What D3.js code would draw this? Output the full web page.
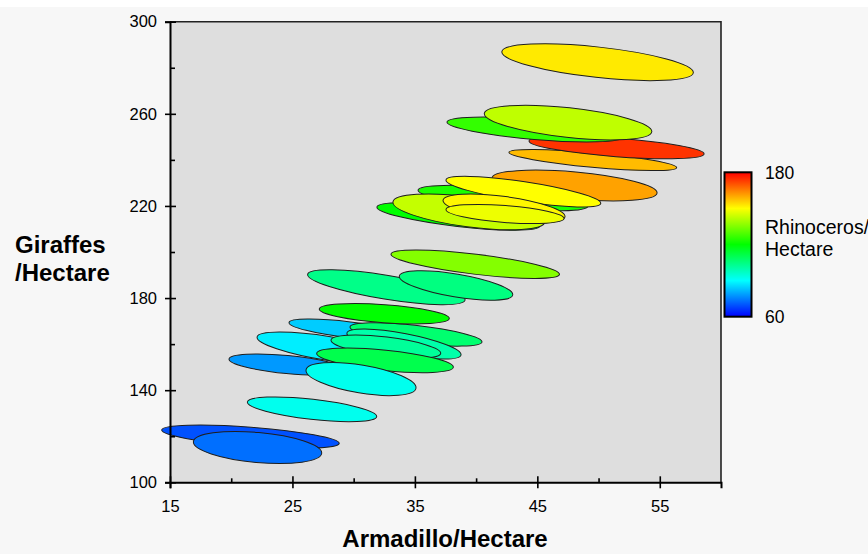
<!DOCTYPE html>
<html><head><meta charset="utf-8">
<script src="https://cdn.jsdelivr.net/npm/d3@7"></script>
<style>body{margin:0;background:#fff;} svg{display:block;font-family:"Liberation Sans",Arial,sans-serif;}</style>
</head><body><svg id="c" width="868" height="554"></svg>
<script>
// centre of each ellipse (Armadillo/Hectare, Giraffes/Hectare)
const armadillo = [21.57,22.15,26.6,29.66,27.95,24.56,35.09,34.11,32.63,32.56,30.6,32.5,32.67,38.36,39.93,38.56,42.2,48.04,39.42,43.86,42.28,42.36,49.53,51.47,44.81,47.51,49.92];
const giraffes  = [119.8,115.1,131.7,166.2,158.1,151.15,164.2,160.05,158.9,152.97,144.85,173.2,184.7,185.45,194.7,215.4,223.4,228.9,217.4,226.2,218.9,216.5,239.95,245.4,253.2,256.2,282.4];
// colour value
const rhinos    = [69.5,73,92,84,88,78,107,100,102,111,92,120,104,105,135.5,120,123,161,143,150,151,148,158,174,126,142.5,152.5];
// half-extent of major axis in armadillo units, drop of that axis in giraffe units, half-width in giraffe units
const spreadX   = [7.25,5.24,5.28,4.94,5.84,4.74,5.39,4.66,4.48,5.58,4.49,5.31,6.43,4.63,6.88,6.66,6.94,6.74,6.21,6.32,4.98,4.82,6.85,7.15,7.19,6.84,7.82];
const tiltY     = [2.91,2.52,3.17,3.15,4.99,2.39,3.26,4.78,2.91,3.04,4.0,2.04,5.56,4.13,4.43,4.12,3.47,3.26,4.34,5.08,3.6,1.95,3.34,2.82,3.26,4.0,4.56];
const spreadY   = [4.13,6.51,4.34,3.47,5.21,3.91,3.91,4.56,4.17,4.43,6.08,3.91,5.21,4.99,4.34,4.34,4.34,5.86,6.5,4.34,5.2,3.69,3.17,4.0,4.34,6.43,6.6];
const xMajor = [15,25,35,45,55];
const xMinor = [20,30,40,50];
const yMajor = [100,140,180,220,260,300];
const yMinor = [120,160,200,240,280];
const colorTicks = [60,180];

const svg = d3.select("#c");
const x = d3.scaleLinear().domain([15,60]).range([170,721]);
const y = d3.scaleLinear().domain([100,300]).range([482.3,21.7]);
const hue = d3.scaleLinear().domain([60,180]).range([240,0]);
const color = v => d3.hsl(hue(v),1,0.5).formatHex();

svg.append("rect").attr("x",0).attr("y",7).attr("width",868).attr("height",547).attr("fill","#f7f7f7");
svg.append("rect").attr("x",x(15)).attr("y",y(300)).attr("width",x(60)-x(15)).attr("height",y(100)-y(300)).attr("fill","#dedede");

const data = armadillo.map((a,i)=>({a, g:giraffes[i], r:rhinos[i], sx:spreadX[i], t:tiltY[i], sy:spreadY[i]}));
svg.append("g").selectAll("ellipse").data(data).join("ellipse")
  .each(function(d){
    const cx=x(d.a), cy=y(d.g);
    const ux=x(d.a+d.sx)-cx, uy=y(d.g-d.t)-cy;
    const ang=Math.atan2(uy,ux)*180/Math.PI;
    d3.select(this).attr("cx",cx).attr("cy",cy)
      .attr("rx",Math.hypot(ux,uy)).attr("ry",y(d.g-d.sy)-cy)
      .attr("transform",`rotate(${ang},${cx},${cy})`);
  })
  .attr("fill",d=>color(d.r)).attr("stroke","#1e1e1e").attr("stroke-width",1);

// frame top/right
svg.append("path").attr("d",`M${x(15)},${y(300)}H${x(60)}V${y(100)}`).attr("fill","none").attr("stroke","#222").attr("stroke-width",1.6);

// axes
const yAx = svg.append("g").attr("transform",`translate(${x(15)},0)`)
  .call(d3.axisLeft(y).tickValues(yMajor).tickSize(5).tickPadding(8).tickFormat(d3.format("d")));
yAx.selectAll(".tick line").attr("x1",6);
svg.append("g").attr("transform",`translate(${x(15)},0)`)
  .call(d3.axisLeft(y).tickValues(yMinor).tickSize(-5).tickFormat(""))
  .select(".domain").remove();
const xAx = svg.append("g").attr("transform",`translate(0,${y(100)})`)
  .call(d3.axisBottom(x).tickValues(xMajor).tickSize(6).tickPadding(12).tickFormat(d3.format("d")));
xAx.selectAll(".tick line").attr("y1",-6);
svg.append("g").attr("transform",`translate(0,${y(100)})`)
  .call(d3.axisBottom(x).tickValues(xMinor).tickSize(-4).tickFormat(""))
  .select(".domain").remove();
svg.selectAll(".domain").attr("stroke","#000").attr("stroke-width",2);
svg.selectAll(".tick line").attr("stroke","#000").attr("stroke-width",1.6);
svg.selectAll(".tick text").attr("font-size",16.5).attr("fill","#000").attr("font-family","Liberation Sans, Arial, sans-serif");

// titles
svg.append("text").attr("x",445).attr("y",547).attr("text-anchor","middle")
  .attr("font-size",24).attr("font-weight","bold").text("Armadillo/Hectare");
const yt = svg.append("text").attr("x",15).attr("y",253).attr("font-size",24).attr("font-weight","bold");
yt.append("tspan").attr("x",15).text("Giraffes");
yt.append("tspan").attr("x",15).attr("dy",28).text("/Hectare");

// colour bar
const cb = d3.scaleLinear().domain(colorTicks).range([316.7,172.3]);
const grad = svg.append("defs").append("linearGradient").attr("id","cg")
  .attr("x1",0).attr("y1",1).attr("x2",0).attr("y2",0);
d3.range(0,1.0001,0.05).forEach(t=>{
  grad.append("stop").attr("offset",t).attr("stop-color",color(60+t*120));
});
svg.append("rect").attr("x",724.5).attr("y",cb(180)).attr("width",27).attr("height",cb(60)-cb(180))
  .attr("fill","url(#cg)").attr("stroke","#000").attr("stroke-width",2);
svg.selectAll(".cbl").data(colorTicks).join("text").attr("class","cbl")
  .attr("x",765).attr("y",d=>cb(d)).attr("dy","0.36em").attr("font-size",17.5).text(d=>d);
const ct = svg.append("text").attr("x",765).attr("y",234).attr("font-size",19.5);
ct.append("tspan").attr("x",765).text("Rhinoceros/");
ct.append("tspan").attr("x",765).attr("dy",22).text("Hectare");
</script></body></html>
